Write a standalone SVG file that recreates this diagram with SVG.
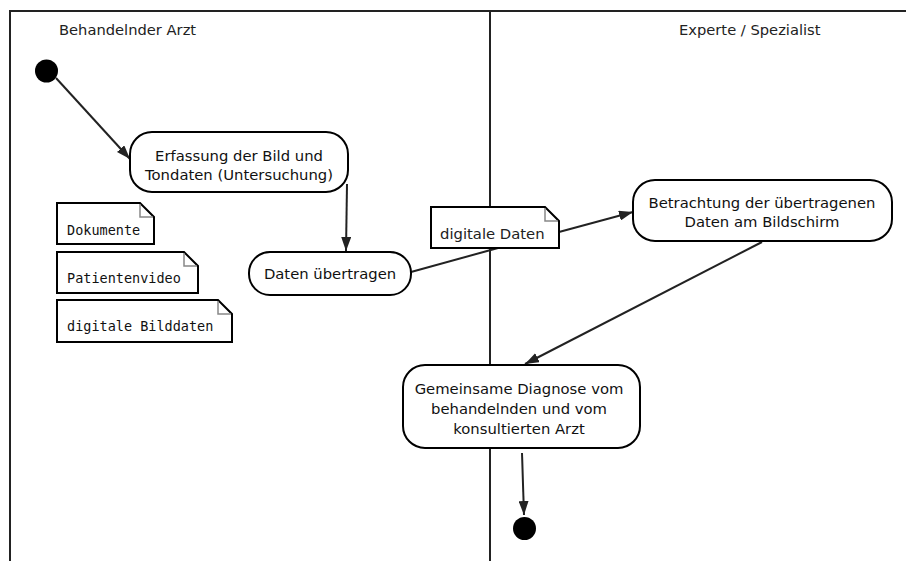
<svg xmlns="http://www.w3.org/2000/svg" width="906" height="561" viewBox="0 0 906 561">
  <style>
    .lane { stroke: #222; stroke-width: 2; fill: none; }
    .title { font-family: "DejaVu Sans", sans-serif; font-size: 14.7px; fill: #222; }
    .act { fill: #fff; stroke: #000; stroke-width: 2; }
    .lbl { font-family: "DejaVu Sans", sans-serif; font-size: 14.8px; fill: #111; text-anchor: middle; }
    .note { fill: #fff; stroke: #000; stroke-width: 2; }
    .fold { fill: none; stroke: #888; stroke-width: 1.5; }
    .mono { font-family: "DejaVu Sans Mono", monospace; font-size: 13.5px; fill: #111; }
    .edge { stroke: #222; stroke-width: 2; fill: none; }
    .dot { fill: #000; }
  </style>
  <defs>
    <marker id="arrow" viewBox="0 0 14 10" refX="14" refY="5" markerWidth="14" markerHeight="10" markerUnits="userSpaceOnUse" orient="auto">
      <path d="M0,0 L14,5 L0,10 z" fill="#222"/>
    </marker>
  </defs>

  <rect width="906" height="561" fill="#fff"/>

  <!-- swimlanes -->
  <g id="lanes">
    <path class="lane" d="M10,561 V11 H906"/>
    <path class="lane" d="M490,11 V561"/>
    <text class="title" x="59" y="35">Behandelnder Arzt</text>
    <text class="title" x="679" y="35">Experte / Spezialist</text>
  </g>

  <!-- connectors -->
  <g id="connectors">
    <path class="edge" d="M56,78 L130,159" marker-end="url(#arrow)"/>
    <path class="edge" d="M347,184 L346,251" marker-end="url(#arrow)"/>
    <path class="edge" d="M411,272 L498,248"/>
    <path class="edge" d="M559,232 L633,212" marker-end="url(#arrow)"/>
    <path class="edge" d="M762,242 L525,364" marker-end="url(#arrow)"/>
    <path class="edge" d="M522,453 L524,515" marker-end="url(#arrow)"/>
  </g>

  <g id="start">
    <circle class="dot" cx="46.5" cy="71" r="11.5"/>
  </g>

  <g id="erfassung">
    <rect class="act" x="130" y="132" width="218" height="60" rx="22"/>
    <text class="lbl" x="239" y="161">Erfassung der Bild und</text>
    <text class="lbl" x="239" y="180">Tondaten (Untersuchung)</text>
  </g>

  <g id="uebertragen">
    <rect class="act" x="249" y="252" width="162" height="43" rx="21"/>
    <text class="lbl" x="330" y="279">Daten übertragen</text>
  </g>

  <g id="note-digitale-daten">
    <path class="note" d="M431,207 H545 L559,221 V248 H431 Z"/>
    <path class="fold" d="M545,208 V221 H558"/>
    <text class="title" x="440" y="239" fill="#111" style="font-size:14.8px">digitale Daten</text>
  </g>

  <g id="betrachtung">
    <rect class="act" x="633" y="180" width="259" height="61" rx="22"/>
    <text class="lbl" x="762" y="208">Betrachtung der übertragenen</text>
    <text class="lbl" x="762" y="227">Daten am Bildschirm</text>
  </g>

  <g id="diagnose">
    <rect class="act" x="403" y="365" width="237" height="83" rx="22"/>
    <text class="lbl" x="519" y="394">Gemeinsame Diagnose vom</text>
    <text class="lbl" x="519" y="414">behandelnden und vom</text>
    <text class="lbl" x="519" y="434">konsultierten Arzt</text>
  </g>

  <g id="end">
    <circle class="dot" cx="524.5" cy="528.5" r="11.5"/>
  </g>

  <g id="note-dokumente">
    <path class="note" d="M57,203 H140 L154,217 V244 H57 Z"/>
    <path class="fold" d="M140,204 V217 H153"/>
    <text class="mono" x="67" y="235">Dokumente</text>
  </g>

  <g id="note-patientenvideo">
    <path class="note" d="M57,252 H184 L198,266 V293 H57 Z"/>
    <path class="fold" d="M184,253 V266 H197"/>
    <text class="mono" x="67" y="283">Patientenvideo</text>
  </g>

  <g id="note-bilddaten">
    <path class="note" d="M57,300 H218 L232,314 V342 H57 Z"/>
    <path class="fold" d="M218,301 V314 H231"/>
    <text class="mono" x="67" y="331">digitale Bilddaten</text>
  </g>
</svg>
